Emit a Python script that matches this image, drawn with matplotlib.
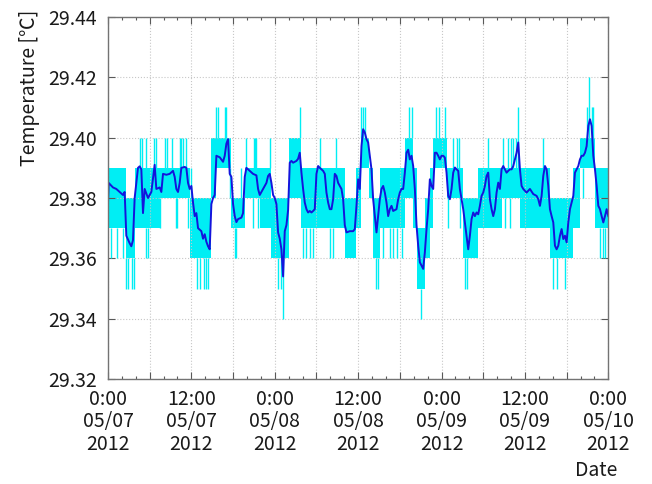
import matplotlib
matplotlib.use('Agg')
import matplotlib.pyplot as plt
from matplotlib.ticker import MultipleLocator
import numpy as np

plt.rcParams['font.family'] = ['Noto Sans CJK JP', 'DejaVu Sans']
plt.rcParams['font.size'] = 14

# smoothed temperature (blue), hours from 0:00 05/07/2012
smooth_h = [0.0, 0.1, 0.72, 1.2, 1.68, 2.16, 2.4, 2.64,
            3.12, 3.36, 3.6, 3.84, 4.32, 4.56, 4.8, 5.04,
            5.28, 5.76, 6.24, 6.72, 6.96, 7.44, 7.68, 7.92,
            8.4, 8.88, 9.36, 9.6, 9.84, 10.08, 10.32, 10.56,
            11.04, 11.28, 11.52, 11.76, 12.0, 12.24, 12.48, 12.72,
            12.96, 13.44, 13.68, 13.92, 14.16, 14.4, 14.64, 14.88,
            15.12, 15.36, 15.6, 16.08, 16.56, 16.8, 17.04, 17.28,
            17.52, 17.76, 18.0, 18.24, 18.48, 18.72, 19.2, 19.44,
            19.68, 19.92, 20.4, 20.88, 21.36, 21.6, 21.84, 22.32,
            22.8, 23.04, 23.28, 23.52, 23.76, 24.0, 24.24, 24.48,
            24.72, 24.96, 25.2, 25.44, 25.68, 25.92, 26.16, 26.4,
            26.64, 27.12, 27.36, 27.6, 27.84, 28.08, 28.32, 28.56,
            28.8, 29.04, 29.28, 29.52, 29.76, 30.0, 30.24, 30.48,
            30.72, 30.96, 31.2, 31.44, 31.68, 31.92, 32.16, 32.4,
            32.64, 32.88, 33.12, 33.36, 33.6, 33.84, 34.08, 34.32,
            34.8, 35.28, 35.52, 35.76, 36.0, 36.24, 36.48, 36.72,
            36.96, 37.2, 37.44, 37.68, 37.92, 38.16, 38.4, 38.64,
            38.88, 39.12, 39.36, 39.6, 39.84, 40.08, 40.32, 40.56,
            40.8, 41.04, 41.52, 41.76, 42.0, 42.24, 42.48, 42.72,
            42.96, 43.2, 43.44, 43.68, 43.92, 44.16, 44.4, 44.64,
            44.88, 45.12, 45.36, 45.6, 45.84, 46.08, 46.32, 46.56,
            46.8, 47.04, 47.28, 47.52, 47.76, 48.0, 48.24, 48.48,
            48.72, 48.96, 49.2, 49.44, 49.68, 49.92, 50.16, 50.4,
            50.64, 50.88, 51.12, 51.36, 51.6, 51.84, 52.08, 52.32,
            52.56, 52.8, 53.04, 53.28, 53.52, 53.76, 54.0, 54.24,
            54.48, 54.72, 54.96, 55.2, 55.44, 55.68, 55.92, 56.16,
            56.4, 56.64, 56.88, 57.12, 57.36, 57.6, 57.84, 58.08,
            58.32, 58.56, 58.8, 59.04, 59.28, 59.52, 59.76, 60.24,
            60.72, 61.2, 61.68, 61.92, 62.16, 62.4, 62.64, 62.88,
            63.12, 63.36, 63.6, 63.84, 64.08, 64.32, 64.56, 64.8,
            65.04, 65.28, 65.52, 65.76, 66.0, 66.24, 66.48, 66.72,
            66.96, 67.2, 67.44, 67.68, 67.92, 68.16, 68.4, 68.64,
            68.88, 69.12, 69.36, 69.6, 69.84, 70.08, 70.32, 70.56,
            70.8, 71.04, 71.28, 71.52, 71.76, 72.0]
smooth_t = [29.378, 29.385, 29.3835, 29.383, 29.382, 29.381, 29.382, 29.3675,
            29.365, 29.364, 29.366, 29.380, 29.390, 29.3905, 29.3895, 29.375,
            29.383, 29.380, 29.382, 29.391, 29.383, 29.3835, 29.382, 29.388,
            29.3877, 29.388, 29.389, 29.387, 29.383, 29.382, 29.385, 29.390,
            29.3903, 29.390, 29.385, 29.383, 29.384, 29.3785, 29.374, 29.375,
            29.370, 29.369, 29.3665, 29.368, 29.3655, 29.364, 29.363, 29.378,
            29.380, 29.381, 29.394, 29.3935, 29.392, 29.394, 29.398, 29.3995,
            29.388, 29.387, 29.378, 29.374, 29.372, 29.373, 29.3735, 29.375,
            29.387, 29.390, 29.389, 29.388, 29.3875, 29.383, 29.381, 29.383,
            29.385, 29.3873, 29.388, 29.385, 29.381, 29.380, 29.378, 29.3686,
            29.3665, 29.363, 29.354, 29.369, 29.371, 29.376, 29.3917, 29.3923,
            29.3917, 29.3923, 29.393, 29.395, 29.3884, 29.383, 29.3785, 29.3763,
            29.3752, 29.3757, 29.3752, 29.3757, 29.3763, 29.388, 29.3906, 29.390,
            29.3895, 29.389, 29.388, 29.3818, 29.3785, 29.3763, 29.3763, 29.3796,
            29.388, 29.3873, 29.385, 29.384, 29.383, 29.3796, 29.371, 29.3686,
            29.369, 29.369, 29.3697, 29.3774, 29.3862, 29.383, 29.3972, 29.4028,
            29.4017, 29.3995, 29.3984, 29.394, 29.3895, 29.3796, 29.374, 29.3686,
            29.374, 29.3796, 29.383, 29.384, 29.3818, 29.3785, 29.374, 29.3763,
            29.3774, 29.3757, 29.3763, 29.3796, 29.3818, 29.383, 29.383, 29.3884,
            29.395, 29.396, 29.3928, 29.394, 29.3906, 29.383, 29.371, 29.3642,
            29.3587, 29.3576, 29.3565, 29.362, 29.3697, 29.3763, 29.3862, 29.384,
            29.383, 29.395, 29.395, 29.394, 29.3928, 29.394, 29.394, 29.3934,
            29.3884, 29.3807, 29.3796, 29.383, 29.3884, 29.3901, 29.3895, 29.389,
            29.383, 29.3796, 29.3763, 29.3719, 29.3675, 29.363, 29.3675, 29.373,
            29.3752, 29.374, 29.3752, 29.3746, 29.3774, 29.3807, 29.3818, 29.384,
            29.3873, 29.3884, 29.3796, 29.3763, 29.374, 29.3763, 29.3818, 29.3851,
            29.383, 29.3895, 29.3906, 29.3895, 29.3884, 29.389, 29.3895, 29.3895,
            29.3906, 29.3928, 29.395, 29.3984, 29.3895, 29.384, 29.383, 29.3818,
            29.383, 29.3813, 29.3807, 29.3796, 29.3774, 29.3807, 29.3873, 29.3906,
            29.3895, 29.384, 29.3763, 29.374, 29.3719, 29.3642, 29.363, 29.3642,
            29.3675, 29.3697, 29.3664, 29.3675, 29.3653, 29.3719, 29.3763, 29.3785,
            29.3807, 29.3884, 29.3895, 29.3906, 29.3928, 29.394, 29.394, 29.395,
            29.3972, 29.4039, 29.4061, 29.4039, 29.394, 29.3895, 29.384, 29.3774,
            29.3763, 29.374, 29.3719, 29.374, 29.3763, 29.374]

# raw sensor readings (cyan): levels the signal flickers between
band_start = [0.0, 2.55, 3.84, 7.44, 11.76, 14.88, 15.6, 17.76, 19.68,
              21.84, 23.52, 26.06, 27.84, 34.08, 35.76, 36.48, 37.6, 38.16,
              39.12, 42.72, 43.92, 44.4, 45.6, 46.32, 46.8, 48.72, 51.12,
              53.28, 56.64, 59.28, 63.6, 66.96, 67.92, 70.08]
band_end = [2.55, 3.84, 7.44, 11.76, 14.88, 15.6, 17.76, 19.68, 21.84,
            23.52, 26.06, 27.84, 34.08, 35.76, 36.48, 37.6, 38.16, 39.12,
            42.72, 43.92, 44.4, 45.6, 46.32, 46.8, 48.72, 51.12, 53.28,
            56.64, 59.28, 63.6, 66.96, 67.92, 70.08, 72.0]
band_lo = [29.37, 29.36, 29.37, 29.38, 29.36, 29.38, 29.39, 29.37, 29.38,
           29.37, 29.36, 29.38, 29.37, 29.36, 29.37, 29.39, 29.38, 29.36,
           29.37, 29.38, 29.37, 29.35, 29.36, 29.37, 29.39, 29.38, 29.36,
           29.37, 29.38, 29.37, 29.36, 29.37, 29.39, 29.37]
band_hi = [29.39, 29.38, 29.39, 29.39, 29.38, 29.40, 29.40, 29.38, 29.39,
           29.39, 29.38, 29.40, 29.39, 29.38, 29.39, 29.40, 29.39, 29.38,
           29.39, 29.40, 29.39, 29.37, 29.38, 29.39, 29.40, 29.39, 29.38,
           29.39, 29.39, 29.39, 29.38, 29.39, 29.40, 29.39]

# single readings outside the band
spike_h = [0.48, 1.3, 2.16, 2.64, 2.88, 3.5, 3.7, 4.56, 4.94, 5.52,
           6.58, 6.86, 8.16, 8.5, 9.27, 10.32, 10.56, 10.8, 11.19, 7.44,
           9.75, 9.94, 11.52, 5.52, 5.76, 12.82, 13.2, 13.78, 14.16, 14.4,
           12.0, 15.6, 15.84, 16.8, 17.04, 17.52, 18.24, 18.48, 19.2, 19.92,
           20.98, 21.27, 20.88, 21.6, 21.12, 23.28, 24.96, 25.2, 24.48, 27.6,
           30.48, 32.78, 28.08, 28.56, 29.04, 29.52, 31.92, 32.4, 36.48, 36.72,
           36.96, 38.54, 38.88, 39.6, 40.56, 41.04, 41.52, 42.24, 43.35, 43.68,
           44.98, 47.18, 47.66, 48.48, 49.68, 50.16, 50.54, 48.96, 50.64, 51.36,
           51.7, 54.72, 56.88, 57.6, 57.94, 58.32, 58.7, 59.04, 57.12, 57.84,
           62.64, 64.08, 64.56, 65.76, 68.88, 69.6, 69.84, 69.26, 70.8, 71.28,
           71.52, 68.4]
spike_lo = [29.36, 29.36, 29.36, 29.35, 29.35, 29.35, 29.35, 29.39, 29.39, 29.39,
            29.39, 29.39, 29.39, 29.39, 29.39, 29.39, 29.39, 29.39, 29.39, 29.37,
            29.37, 29.37, 29.37, 29.36, 29.36, 29.35, 29.35, 29.35, 29.35, 29.35,
            29.38, 29.40, 29.40, 29.40, 29.40, 29.38, 29.36, 29.36, 29.38, 29.39,
            29.39, 29.39, 29.37, 29.37, 29.39, 29.39, 29.35, 29.34, 29.35, 29.40,
            29.39, 29.39, 29.36, 29.36, 29.36, 29.36, 29.36, 29.36, 29.40, 29.40,
            29.40, 29.35, 29.35, 29.39, 29.36, 29.36, 29.36, 29.36, 29.40, 29.40,
            29.34, 29.40, 29.40, 29.40, 29.39, 29.39, 29.39, 29.37, 29.37, 29.35,
            29.35, 29.39, 29.39, 29.39, 29.39, 29.39, 29.39, 29.39, 29.37, 29.37,
            29.39, 29.35, 29.35, 29.35, 29.40, 29.40, 29.40, 29.40, 29.36, 29.36,
            29.36, 29.38]
spike_hi = [29.37, 29.37, 29.37, 29.36, 29.36, 29.36, 29.36, 29.40, 29.40, 29.40,
            29.40, 29.40, 29.40, 29.40, 29.40, 29.40, 29.40, 29.40, 29.40, 29.38,
            29.38, 29.38, 29.38, 29.37, 29.37, 29.36, 29.36, 29.36, 29.36, 29.36,
            29.39, 29.41, 29.41, 29.41, 29.41, 29.39, 29.37, 29.37, 29.39, 29.40,
            29.40, 29.40, 29.38, 29.38, 29.40, 29.40, 29.36, 29.36, 29.36, 29.41,
            29.40, 29.40, 29.37, 29.37, 29.37, 29.37, 29.37, 29.37, 29.41, 29.41,
            29.41, 29.36, 29.36, 29.36, 29.37, 29.37, 29.37, 29.37, 29.41, 29.41,
            29.35, 29.41, 29.41, 29.41, 29.40, 29.40, 29.40, 29.38, 29.38, 29.36,
            29.36, 29.40, 29.40, 29.40, 29.40, 29.40, 29.40, 29.41, 29.38, 29.38,
            29.40, 29.36, 29.36, 29.36, 29.41, 29.41, 29.41, 29.42, 29.37, 29.37,
            29.37, 29.39]

tick_hours = [0, 12, 24, 36, 48, 60, 72]
tick_text = ['0:00\n05/07\n2012', '12:00\n05/07\n2012', '0:00\n05/08\n2012',
             '12:00\n05/08\n2012', '0:00\n05/09\n2012', '12:00\n05/09\n2012',
             '0:00\n05/10\n2012']

cyan = '#00eef4'
fig = plt.figure(figsize=(6.52, 4.84), dpi=100)
ax = fig.add_axes([0.1656, 0.2169, 0.7674, 0.7480])

for s, e, lo, hi in zip(band_start, band_end, band_lo, band_hi):
    ax.fill_between([s, e], lo, hi, color=cyan, linewidth=0)
ax.vlines(spike_h, spike_lo, spike_hi, color=cyan, linewidth=1.0)
ax.plot(smooth_h, smooth_t, color='#1414dc', linewidth=1.4)

ax.set_xlim(0, 72)
ax.set_ylim(29.32, 29.44)

major = list(range(0, 73, 6))
labels = [tick_text[tick_hours.index(h)] if h in tick_hours else '' for h in major]
ax.set_xticks(major)
ax.set_xticklabels(labels, linespacing=1.1)
ax.xaxis.set_minor_locator(MultipleLocator(2))
yt = np.arange(29.32, 29.441, 0.02)
ax.set_yticks(yt)
ax.set_yticklabels([f'{v:.2f}' for v in yt])

ax.grid(True, which='major', color='0.78', linestyle=':', linewidth=0.8)
ax.tick_params(which='both', direction='in', top=True, right=True,
               color='0.35', labelcolor='0.1')
ax.tick_params(which='major', length=5, width=0.8)
ax.tick_params(which='minor', length=2.5, width=0.8)
ax.tick_params(axis='x', pad=7)
ax.tick_params(axis='y', pad=8)
for sp in ax.spines.values():
    sp.set_color('0.45')
    sp.set_linewidth(1.0)

fig.text(30 / 652, 1 - 10 / 484, 'Temperature [℃]', rotation=90,
         ha='center', va='top', color='0.1')
fig.text(596 / 652, 1 - 470 / 484, 'Date', ha='center', va='center', color='0.1')

fig.savefig('out.png', dpi=100)
